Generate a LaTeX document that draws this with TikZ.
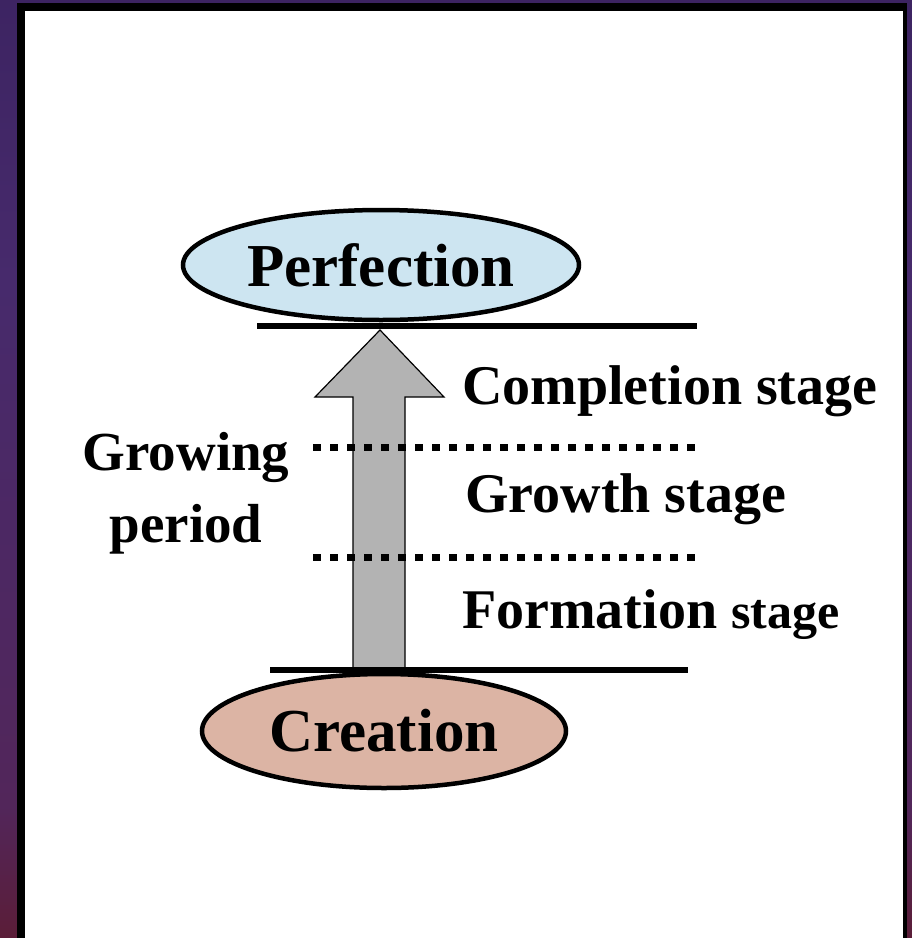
\documentclass[tikz,border=0pt]{standalone}
\usepackage{fontspec}
\setmainfont{Liberation Serif}
\usetikzlibrary{shapes.geometric}
\definecolor{perfblue}{HTML}{CDE5F1}
\definecolor{creapink}{HTML}{DCB4A4}
\definecolor{arrowgray}{HTML}{B3B3B3}
\definecolor{bgA}{HTML}{08060F}
\definecolor{bgB}{HTML}{160C22}
\definecolor{bgC}{HTML}{5C1C33}
\definecolor{bgD}{HTML}{52265A}
\definecolor{bgE}{HTML}{472A6C}
\definecolor{bgF}{HTML}{2C1A52}
\pgfdeclareverticalshading{bgshade}{100bp}{color(0bp)=(bgA); color(14bp)=(bgB); color(24bp)=(bgC); color(32bp)=(bgD); color(60bp)=(bgE); color(100bp)=(bgF)}
\tikzset{
  stagelbl/.style={font=\fontsize{56}{60}\selectfont\bfseries, inner sep=0pt, anchor=base west},
  endpoint/.style={ellipse, draw, line width=4.5pt, inner sep=0pt, font=\fontsize{61}{61}\selectfont\bfseries},
  boundline/.style={line width=6pt},
  dotline/.style={line width=7pt, dash pattern=on 8pt off 9pt},
  blockarrow/.style={fill=arrowgray, draw=black, line width=1.2pt, line join=miter}
}
\begin{document}
\begin{tikzpicture}[x=1pt,y=-1pt]
\useasboundingbox (0,0) rectangle (912,938);
% background
\shade[shading=bgshade] (0,0) rectangle (912,938);
\fill[black] (17,3) rectangle (907,938);
\fill[white] (25,11) rectangle (903,938);
% end states
\node[endpoint, fill=perfblue, minimum width=396pt, minimum height=110pt] (perf) at (381,265) {Perfection};
\node[endpoint, fill=creapink, minimum width=364pt, minimum height=114pt] (crea) at (384,731) {Creation};
% arrow
\coordinate (tip) at (380,330);
\coordinate (tail) at (379,670);
\draw[blockarrow] (tip) -- (444,397) -- (405,397) -- (405,670) -- (353,670) -- (353,397) -- (315,397) -- cycle;
% boundary lines
\coordinate (topL) at (257,326);
\coordinate (topR) at (697,326);
\coordinate (botL) at (270,670);
\coordinate (botR) at (688,670);
\draw[boundline] (topL) -- (topR);
\draw[boundline] (botL) -- (botR);
% dotted lines
\coordinate (d1L) at (313,447);
\coordinate (d1R) at (695,447);
\coordinate (d2L) at (313,557);
\coordinate (d2R) at (695,557);
\draw[dotline] (d1L) -- (d1R);
\draw[dotline] (d2L) -- (d2R);
% labels
\node[stagelbl] (compl) at (462,404) {Completion stage};
\node[stagelbl] (growth) at (465,512) {Growth stage};
\node[stagelbl] (form) at (462,628) {Formation {\fontsize{50}{50}\selectfont stage}};
\node[font=\fontsize{55}{72}\selectfont\bfseries, align=center, inner sep=0pt, anchor=north] (period) at (186,432) {Growing\\period};
\end{tikzpicture}
\end{document}
